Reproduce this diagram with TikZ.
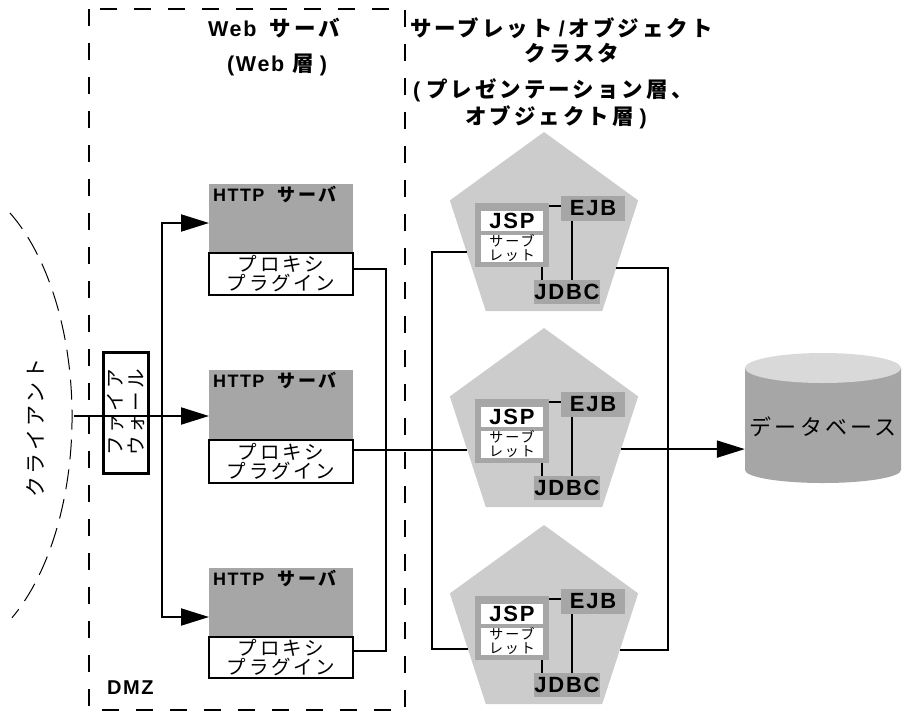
\documentclass[tikz,border=0pt]{standalone}
\usepackage{fontspec}
\usetikzlibrary{arrows.meta,shapes.geometric,calc}
\newfontfamily\jpfont[LetterSpace=14]{Noto Sans CJK JP}
\newfontfamily\latfont[LetterSpace=8]{Liberation Sans}
\newcommand\jpb[1]{{\jpfont\bfseries #1}}
\newcommand\latb[1]{{\latfont\bfseries #1}}
\newcommand\fsz[2]{\fontsize{#1}{#2}\selectfont}
\definecolor{srvgray}{HTML}{A6A6A6}
\definecolor{pentgray}{HTML}{CCCCCC}
\definecolor{dbtop}{HTML}{D9D9D9}

\begin{document}
\begin{tikzpicture}[x=1pt,y=-1pt,
  conn/.style={line width=2pt},
  arr/.style={conn,-{Triangle[length=28pt,width=17pt]}},
  graybox/.style={fill=srvgray,inner sep=0pt,outer sep=0pt},
  whitebox/.style={fill=white,inner sep=0pt,outer sep=0pt},
  proxybox/.style={draw,line width=1.5pt,fill=white,minimum width=144pt,
    inner sep=0pt,outer sep=0pt,align=center,font=\jpfont\fsz{19.5}{19}},
  pent/.style={regular polygon,regular polygon sides=5,minimum size=198pt,
    inner sep=0pt,outer sep=0pt,fill=pentgray},
  title/.style={inner sep=0pt,font=\fsz{21.5}{24}}]
\useasboundingbox (0,0) rectangle (909,712);

% DMZ boundary
\draw[line width=2pt,dash pattern=on 17pt off 17pt] (89,9) rectangle (405,710);
\node[anchor=base west,inner sep=0pt,font=\latfont\bfseries\fsz{20}{24}] (dmzlbl) at (107,694) {DMZ};

% titles
\node[title] (webt1) at (274,28) {\latb{Web}\hspace{13pt}\jpb{サーバ}};
\node[title] (webt2) at (277,65) {\latb{(Web}\hspace{8pt}\jpb{層}\hspace{6pt}\latb{)}};
\node[title,anchor=west] (clt1) at (410,28) {\jpb{サーブレット}\hspace{6pt}\latb{/}\hspace{4pt}\jpb{オブジェクト}};
\node[title] (clt2) at (572,53) {\jpb{クラスタ}};
\node[title,anchor=west] (clt3) at (413,90) {\latb{(}\hspace{6pt}\jpb{プレゼンテーション層、}};
\node[title] (clt4) at (556,117) {\jpb{オブジェクト層}\hspace{6pt}\latb{)}};

% client side
\draw[line width=1pt,dash pattern=on 20pt off 10pt]
  (10,213) arc[start angle=58,end angle=-57,x radius=132pt,y radius=240pt];
\node[rotate=90,inner sep=0pt,font=\jpfont\fsz{21}{24}] (client) at (35,428) {クライアント};
\node[draw,line width=3pt,rotate=90,minimum width=121pt,minimum height=45pt,
  inner sep=0pt,align=center,font=\jpfont\fsz{19.5}{21}] (fw) at (125.5,412.5) {ファイア\\ウォール};

% HTTP servers with proxy plug-ins
\foreach \i/\hy/\py/\hh/\ph in {1/218.5/274/69/42, 2/405/461.5/70/43, 3/602.5/657.5/69/41}{
  \node[graybox,minimum width=144pt,minimum height=\hh pt] (h\i) at (281,\hy) {};
  \node[anchor=base west,inner sep=0pt,font=\fsz{18}{20}] (hl\i) at ([xshift=4pt,yshift=-17pt]h\i.north west)
    {\latb{HTTP}\hspace{13pt}\jpb{サーバ}};
  \node[proxybox,minimum height=\ph pt] (p\i) at (281,\py) {プロキシ\\プラグイン};
}

% firewall to web servers
\coordinate (fwin) at (74,416);
\coordinate (hbus) at (162,0);
\draw[conn] (fwin) -- (fwin -| fw.south);
\draw[arr] (fwin -| fw.north) -- (fwin -| h2.west);
\draw[arr] (fwin -| hbus) |- ([yshift=-4.5pt]h1.west);
\draw[arr] (fwin -| hbus) |- ([yshift=-14.5pt]h3.west);

% servlet / object cluster
\foreach \i/\cy in {1/231,2/427,3/624}{
  \node[pent] (pent\i) at (544,\cy) {};
  \node[graybox,minimum width=74pt,minimum height=64pt] (cont\i) at ({512},{\cy+4}) {};
  \node[whitebox,minimum width=62pt,minimum height=20pt,font=\latfont\bfseries\fsz{22}{24}]
    (jsp\i) at ({512},{\cy-10}) {JSP};
  \node[whitebox,minimum width=62pt,minimum height=21pt,align=center,font=\jpfont\fsz{14}{14}]
    (svl\i) at ({512},{\cy+17.5}) {サーブ\\レット};
  \node[graybox,minimum width=64pt,minimum height=25pt,font=\latfont\bfseries\fsz{22}{24}]
    (ejb\i) at ({593},{\cy-22.5}) {EJB};
  \node[graybox,minimum width=66pt,minimum height=24pt,font=\latfont\bfseries\fsz{22}{24}]
    (jdbc\i) at ({567},{\cy+61}) {JDBC};
  \coordinate (e\i) at ([yshift=2.5pt]ejb\i.west);
  \draw[conn] (e\i) -- (e\i -| cont\i.east);
  \coordinate (v\i) at ([xshift=-21pt]ejb\i.south);
  \draw[conn] (v\i) -- (v\i |- jdbc\i.north);
  \coordinate (w\i) at ([xshift=30pt]cont\i.south);
  \draw[conn] (w\i) -- (w\i |- jdbc\i.north);
}

% database
\fill[srvgray] (745,368) -- (745,470)
  arc[start angle=180,end angle=360,x radius=78pt,y radius=13pt] -- (901,368) -- cycle;
\fill[dbtop] (823,368) ellipse[x radius=78pt,y radius=15pt];
\node[minimum width=156pt,inner sep=0pt,font=\jpfont\fsz{22}{24}] (db) at (823,427) {データベース};

% proxy plug-ins to cluster
\coordinate (pbus) at (386,0);
\coordinate (lbus) at (432,0);
\coordinate (rbus) at (668,0);
\coordinate (p1o) at ([yshift=5pt]p1.east);
\coordinate (p3o) at ([yshift=6.5pt]p3.east);
\draw[conn] (p1o) -- (p1o -| pbus) -- (p3o -| pbus) -- (p3o);
\coordinate (p2o) at ([yshift=11.5pt]p2.east);
\draw[conn] (p2o) -- (p2o -| pent2.196);
\draw[conn] (pent1.195) -- (pent1.195 -| lbus) -- (pent3.198 -| lbus) -- (pent3.198);
\draw[conn] (pent1.333) -- (pent1.333 -| rbus) -- (pent3.341 -| rbus) -- (pent3.341);
\draw[arr] (pent2.344) -- (pent2.344 -| db.west);
\end{tikzpicture}
\end{document}
